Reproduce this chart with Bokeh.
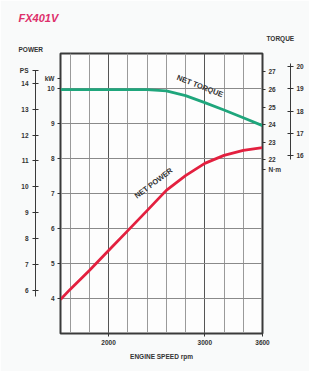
from bokeh.plotting import figure
from bokeh.models import Range1d, LinearAxis, FixedTicker, Label, Title
from bokeh.embed import file_html
from bokeh.resources import INLINE

# ---- data ----
rpm = [1500, 1600, 1800, 2000, 2200, 2400, 2600, 2800, 3000, 3200, 3400, 3600]
net_power_kw = [3.97, 4.26, 4.80, 5.37, 5.94, 6.51, 7.09, 7.51, 7.86, 8.09, 8.23, 8.31]
net_torque_nm = [26.0, 26.0, 26.0, 26.0, 26.0, 26.0, 25.93, 25.66, 25.26, 24.84, 24.40, 23.95]

rpm_ticks = [2000, 3000, 3600]
rpm_grid = [1600, 1800, 2200, 2400, 2600, 2800, 3200, 3400]
kw_ticks = [4, 5, 6, 7, 8, 9, 10]
ps_ticks = [6, 7, 8, 9, 10, 11, 12, 13, 14]
nm_ticks = [22, 23, 24, 25, 26, 27]
lbft_ticks = [16, 17, 18, 19, 20]

# axis unit texts (extra tick labels at the top / bottom of the axes)
kw_headers = {10.29: "kW"}
ps_headers = {14.49: "PS"}
nm_headers = {21.45: "N·m"}

FONT = "Liberation Sans"
TXT = "#333333"
GREEN = "#1fa67c"
RED = "#e3203f"

p = figure(width=309, height=371, x_range=Range1d(1500, 3600), y_range=Range1d(3, 11),
           output_backend="svg", toolbar_location=None, title=None,
           min_border_left=60, min_border_right=47, min_border_top=53, min_border_bottom=38,
           background_fill_color="#fdfdfd", border_fill_color="#f9fafa")
p.outline_line_color = "#3a3a3a"
p.outline_line_width = 2

p.extra_y_ranges = {"ps": Range1d(4.34, 15.15), "nm": Range1d(12.14, 28.05), "lbft": Range1d(8.03, 20.58)}

# grids
p.xgrid.ticker = FixedTicker(ticks=rpm_ticks, minor_ticks=rpm_grid)
p.xgrid.grid_line_color = "#555555"
p.xgrid.minor_grid_line_color = "#9a9a9a"
p.ygrid.ticker = FixedTicker(ticks=kw_ticks)
p.ygrid.grid_line_color = "#8a8a8a"

def style_axis(ax, ticks, headers=None):
    allticks = list(ticks) + (list(headers.keys()) if headers else [])
    ax.ticker = FixedTicker(ticks=allticks)
    if headers:
        ax.major_label_overrides = headers
    ax.major_label_text_font = FONT
    ax.major_label_text_font_size = "6.5px"
    ax.major_label_text_font_style = "bold"
    ax.major_label_text_color = TXT
    ax.major_tick_out = 3
    ax.major_tick_in = 0
    ax.major_tick_line_color = "#333333"
    ax.minor_tick_line_color = None
    ax.axis_line_color = "#3a3a3a"
    ax.major_label_standoff = 3

# x axis
xa = p.xaxis[0]
style_axis(xa, rpm_ticks)
xa.axis_label = "ENGINE SPEED rpm"
xa.axis_label_text_font = FONT
xa.axis_label_text_font_size = "6.5px"
xa.axis_label_text_font_style = "bold"
xa.axis_label_text_color = TXT
xa.axis_label_standoff = 5

# left kW axis (inner)
ya = p.yaxis[0]
style_axis(ya, kw_ticks, kw_headers)
ya.axis_label = " "
ya.axis_label_text_font_size = "3px"
ya.axis_label_standoff = 0

# left PS axis (outer)
ps_axis = LinearAxis(y_range_name="ps", bounds=(5.75, 14.5))
style_axis(ps_axis, ps_ticks, ps_headers)
ps_axis.major_tick_in = 3
ps_axis.major_label_standoff = 4
p.add_layout(ps_axis, "left")

# right N·m axis (inner)
nm_axis = LinearAxis(y_range_name="nm", axis_label=" ")
style_axis(nm_axis, nm_ticks, nm_headers)
nm_axis.axis_label_text_font_size = "3px"
nm_axis.axis_label_standoff = 0
p.add_layout(nm_axis, "right")

# right lbf·ft axis (outer)
lb_axis = LinearAxis(y_range_name="lbft", bounds=(15.85, 20.15))
style_axis(lb_axis, lbft_ticks)
lb_axis.major_tick_in = 3
p.add_layout(lb_axis, "right")

# titles above the frame (first added = closest to the frame)
def add_title(text, offset, standoff, size="6.5px", style="bold", color=TXT):
    p.add_layout(Title(text=text, align="left", offset=offset, standoff=standoff,
                       text_font=FONT, text_font_size=size, text_font_style=style,
                       text_color=color), "above")

add_title("POWER", -42, 1)
add_title("TORQUE", 206, 3)
add_title("FX401V", -42, 16, size="11px", style="bold italic", color="#de2f6a")

# curves
p.line(rpm, net_torque_nm, y_range_name="nm", line_color=GREEN, line_width=2.8, line_join="round")
p.line(rpm, net_power_kw, line_color=RED, line_width=2.8, line_join="round")

def lab(text, x, y, angle, yr=None):
    kw = dict(x=x, y=y, text=text, text_font=FONT, text_font_size="7.5px", text_color=TXT,
              text_font_style="bold", angle=angle, angle_units="deg", text_align="center",
              text_baseline="middle")
    if yr:
        kw["y_range_name"] = yr
    p.add_layout(Label(**kw))

# curve labels
lab("NET TORQUE", 2950, 26.2, -21, yr="nm")
lab("NET POWER", 2467, 7.3, 37)

open("out.html", "w").write(file_html(p, INLINE))
